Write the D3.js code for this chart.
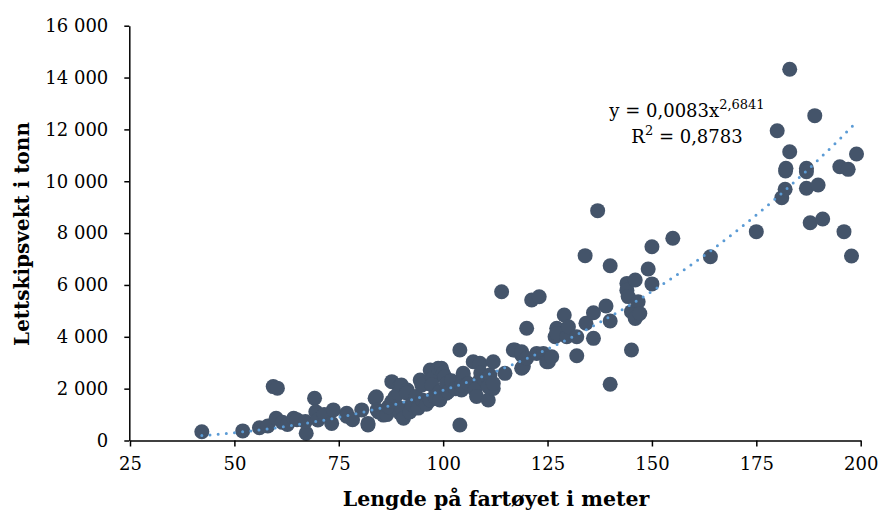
<!DOCTYPE html>
<html>
<head>
  <meta charset="utf-8">
  <script src="https://d3js.org/d3.v7.min.js"></script>
  <style>
    body { margin: 0; background: #fff; }
    text { font-family: "DejaVu Serif", serif; fill: #000; }
  </style>
</head>
<body>
  <svg id="chart"></svg>
  <script>
    // lengde (m) og lettskipsvekt (tonn), lest av figuren
    var lengths = [42.2, 52, 56, 58, 60, 59.3, 60.3, 61.5, 62.7, 64.2, 65, 67.2, 67, 69.2, 69.5, 70, 71.5, 73.7, 73.3,
      76.9, 76.9, 78.3, 80.5, 82, 82, 83.7, 84, 84.2, 84.5, 85.7, 86.5, 86.9, 87.7, 87.7, 88.5, 89.5, 89.3, 90, 89.7,
      90.1, 90.5, 91.4, 91.3, 92, 92.5, 93.5, 94, 94.5, 94.9, 95, 96, 96.9, 97.5, 97.3, 96.9, 98, 98.8, 99.6, 100, 100.4,
      99.2, 99.2, 100.8, 100.8, 101.2, 102, 103, 104, 104, 104.4, 104.4, 104.8, 104.8, 106, 107.2, 108.8, 108.8, 107.6,
      108, 109, 110, 110.8, 111.2, 112, 112, 110.8, 112, 114.8, 114, 116.8, 117.2, 118.8, 118.8, 118.8, 119.2, 120, 120,
      121.2, 123, 122.4, 124, 124.8, 125.2, 126, 126.8, 127.2, 127.2, 129, 129.6, 130, 132, 132, 134, 134.2, 136, 136,
      137, 139, 140, 140, 140, 144, 144, 144.3, 145.1, 145.1, 146, 146, 146.7, 147.1, 149.1, 150, 150, 155, 164, 175,
      180, 181.1, 181.9, 182, 182.1, 183, 183, 187, 187, 187, 187.9, 189, 189.8, 190.9, 195, 196, 197, 197.8, 199];
    var weights = [340, 370, 490, 560, 860, 2080, 2020, 700, 620, 860, 800, 280, 730, 1630, 1110, 790, 1000, 1180, 660,
      1050, 940, 800, 1180, 600, 660, 1630, 1690, 1180, 1100, 980, 1000, 1300, 1500, 2270, 1690, 2080, 1820, 2140, 1050,
      1240, 860, 1950, 1820, 1100, 1400, 1700, 1250, 2330, 2140, 1560, 1400, 2720, 2400, 2140, 1560, 1700, 2785, 2785, 2590, 2460,
      1880, 1560, 2200, 1820, 1880, 2300, 2000, 3490, 600, 1950, 2140, 2460, 2590, 2200, 3040, 2980, 2330, 1950,
      1700, 2600, 2330, 1560, 2525, 3040, 2010, 2080, 2200, 2590, 5740, 3490, 3490, 3300, 3425, 2785, 2850, 3170, 4330,
      5420, 5546, 3360, 3360, 3040, 3040, 3230, 4000, 4330, 4130, 4840, 4000, 4390, 4000, 3270, 7130, 4520, 4930, 3940,
      8865, 5190, 4610, 6740, 2170, 6060, 5800, 5550, 4970, 3490, 6190, 4710, 5350, 4900, 6615, 6040, 7475, 7800, 7090, 8055,
      11950, 9365, 9690, 10400, 10500, 11140, 14320, 10500, 10370, 9730, 8400, 12530, 9855, 8545, 10560, 8055, 10460, 7115, 11050];

    var xTicks = [25, 50, 75, 100, 125, 150, 175, 200];
    var yTicks = [0, 2000, 4000, 6000, 8000, 10000, 12000, 14000, 16000];
    var trendCoef = [0.0083, 2.6841];
    var eqLine = ["y = 0,0083x", "2,6841"];
    var r2Line = ["R", "2", " = 0,8783"];

    var width = 880, height = 516;
    var svg = d3.select("#chart").attr("width", width).attr("height", height);

    var x = d3.scaleLinear().domain([25, 200]).range([130, 860.7]);
    var y = d3.scaleLinear().domain([0, 16000]).range([440.5, 25.7]);

    var nb = d3.formatLocale({ decimal: ",", thousands: "\u00a0", grouping: [3], currency: ["", ""] });
    var fmt = nb.format(",");

    var points = lengths.map(function(d, i) { return [d, weights[i]]; });

    svg.append("g").selectAll("circle")
      .data(points)
      .enter().append("circle")
      .attr("cx", function(d) { return x(d[0]); })
      .attr("cy", function(d) { return y(d[1]); })
      .attr("r", 7.5)
      .attr("fill", "#44546a");

    // trendlinje (potens)
    var xmin = d3.min(lengths), xmax = d3.max(lengths);
    var trend = d3.range(xmin, xmax, 0.5).concat([xmax])
      .map(function(v) { return [v, trendCoef[0] * Math.pow(v, trendCoef[1])]; });
    var line = d3.line()
      .x(function(d) { return x(d[0]); })
      .y(function(d) { return y(d[1]); });
    svg.append("path")
      .datum(trend)
      .attr("d", line)
      .attr("fill", "none")
      .attr("stroke", "#5b9bd5")
      .attr("stroke-width", 3)
      .attr("stroke-linecap", "round")
      .attr("stroke-dasharray", "0 8.2");

    var xAxis = svg.append("g")
      .attr("transform", "translate(0,440.5)")
      .call(d3.axisBottom(x).tickValues(xTicks).tickSize(6).tickSizeOuter(0).tickPadding(11));
    var yAxis = svg.append("g")
      .attr("transform", "translate(129.3,0)")
      .call(d3.axisLeft(y).tickValues(yTicks).tickFormat(fmt).tickSize(5).tickSizeOuter(0).tickPadding(16));

    [xAxis, yAxis].forEach(function(a) {
      a.select(".domain").attr("stroke", "#000").attr("stroke-width", 1.5);
      a.selectAll(".tick line").attr("stroke", "#000").attr("stroke-width", 1.5);
      a.selectAll(".tick text").attr("font-size", 18).attr("font-family", "DejaVu Serif").attr("fill", "#000");
    });

    svg.append("text")
      .attr("x", 496).attr("y", 506)
      .attr("text-anchor", "middle")
      .attr("font-size", 20.5).attr("font-weight", "bold")
      .text("Lengde på fartøyet i meter");

    svg.append("text")
      .attr("transform", "translate(29,234) rotate(-90)")
      .attr("text-anchor", "middle")
      .attr("font-size", 20).attr("font-weight", "bold")
      .text("Lettskipsvekt i tonn");

    var eq = svg.append("text").attr("x", 687).attr("y", 117)
      .attr("text-anchor", "middle").attr("font-size", 18);
    eq.append("tspan").text(eqLine[0]);
    eq.append("tspan").attr("font-size", 13).attr("dy", -8).text(eqLine[1]);

    var r2 = svg.append("text").attr("x", 687).attr("y", 143)
      .attr("text-anchor", "middle").attr("font-size", 18);
    r2.append("tspan").text(r2Line[0]);
    r2.append("tspan").attr("font-size", 13).attr("dy", -8).text(r2Line[1]);
    r2.append("tspan").attr("dy", 8).text(r2Line[2]);
  </script>
</body>
</html>
